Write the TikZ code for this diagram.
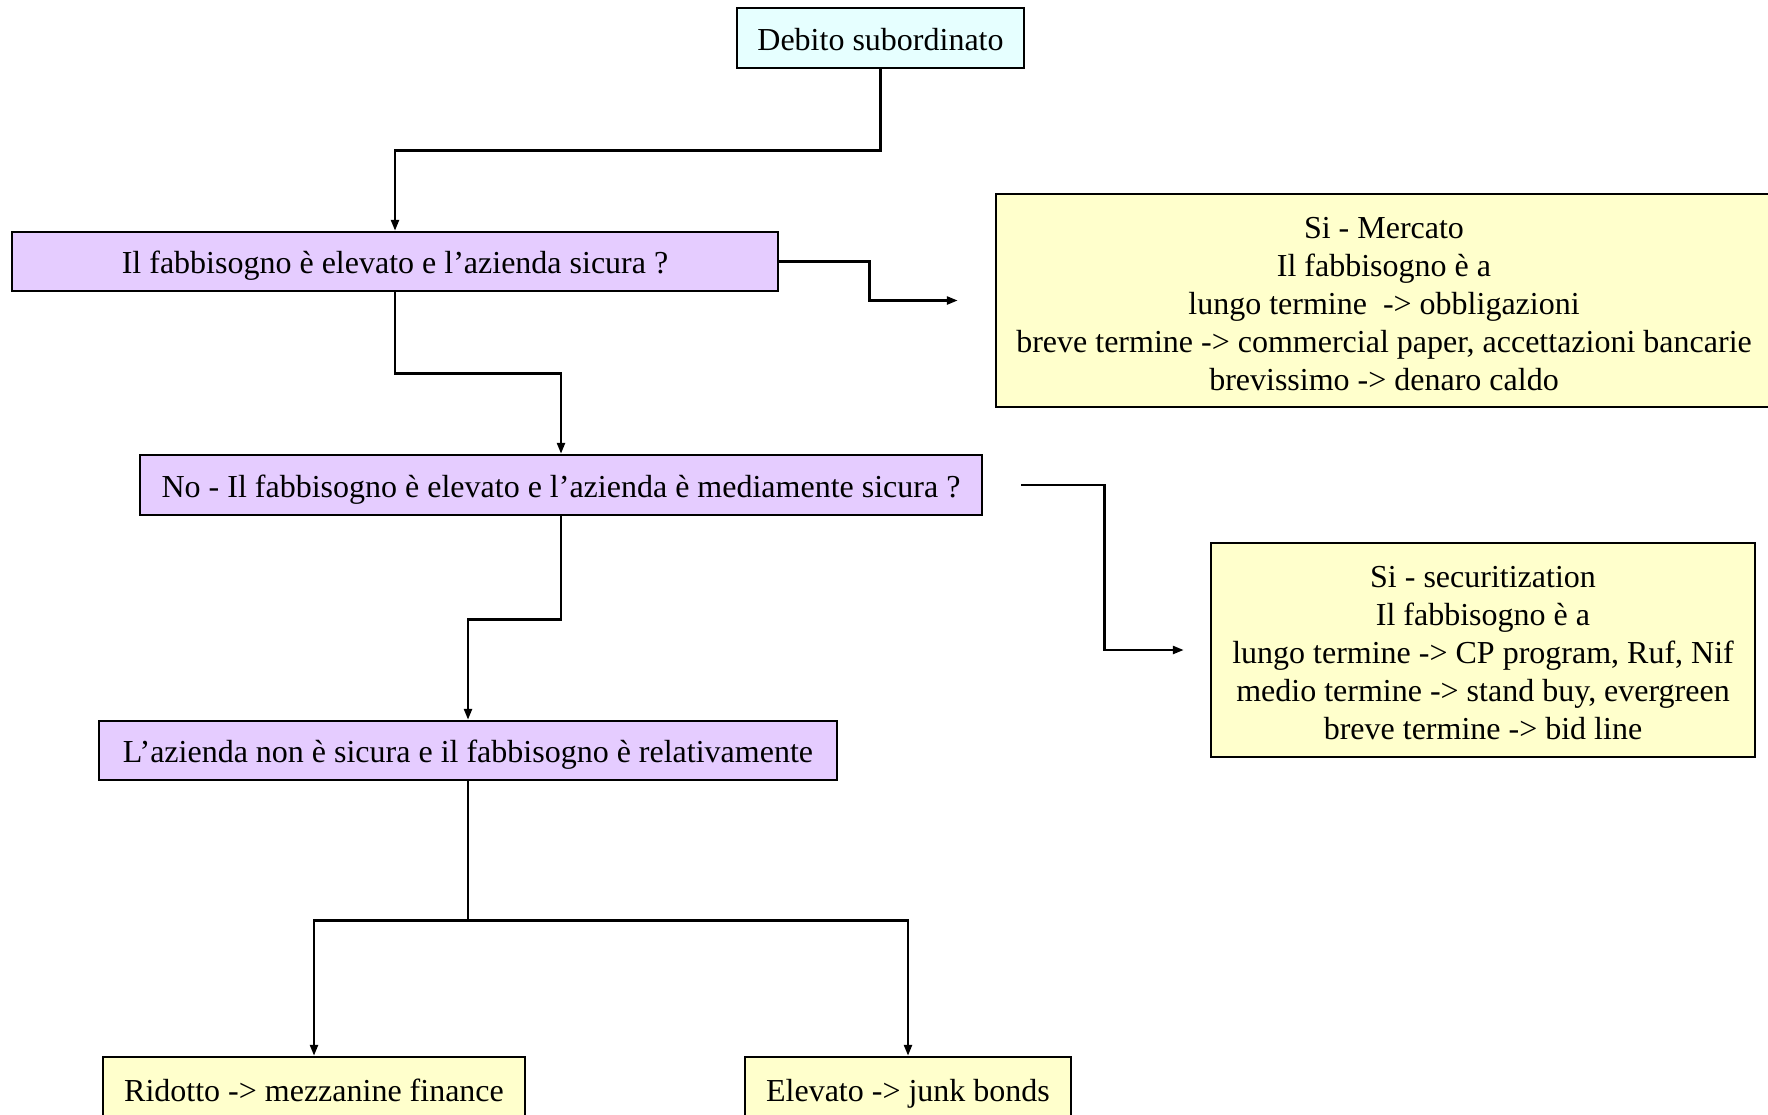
\documentclass[tikz,border=0pt]{standalone}
\usepackage{fontspec}
\setmainfont{Liberation Serif}
\usetikzlibrary{arrows.meta}
\definecolor{cyanfill}{HTML}{E6FFFF}
\definecolor{purplefill}{HTML}{E5CCFF}
\definecolor{yellowfill}{HTML}{FFFFCC}
\tikzset{
  box/.style={draw=black, line width=2.5pt, rectangle, inner sep=0pt, align=center,
    font=\fontsize{32}{38}\selectfont},
  oneline/.style={text height=26pt, text depth=2pt},
  qbox/.style={box, oneline, fill=purplefill},
  abox/.style={box, fill=yellowfill},
  tbox/.style={box, oneline, fill=cyanfill},
  arr/.style={line width=2.5pt, -{Triangle[length=11pt,width=8pt]}},
  ln/.style={line width=2.5pt}
}
\begin{document}
\begin{tikzpicture}[x=1pt,y=-1pt]
\useasboundingbox (0,0) rectangle (1768,1114);
\clip (0,0) rectangle (1768,1114);
\fill[white] (0,0) rectangle (1768,1114);

\node[tbox, minimum width=287pt, minimum height=60pt] (deb) at (880.5,38) {Debito subordinato};
\node[qbox, minimum width=766pt, minimum height=59pt] (b1) at (395,261.5) {Il fabbisogno è elevato e l’azienda sicura ?};
\node[qbox, minimum width=842pt, minimum height=60pt] (b2) at (561,485) {No - Il fabbisogno è elevato e l’azienda è mediamente sicura ?};
\node[qbox, minimum width=738pt, minimum height=59pt] (b3) at (468,750.5) {L’azienda non è sicura e il fabbisogno è relativamente};
\node[abox, minimum width=776pt, minimum height=213pt] (mer) at (1384,300.5) {\rule{0pt}{28pt}Si - Mercato\\Il fabbisogno è a\\lungo termine~ -> obbligazioni\\breve termine -> commercial paper, accettazioni bancarie\\brevissimo -> denaro caldo};
\node[abox, minimum width=544pt, minimum height=214pt] (sec) at (1483,650) {\rule{0pt}{28pt}Si - securitization\\Il fabbisogno è a\\lungo termine -> CP program, Ruf, Nif\\medio termine -> stand buy, evergreen\\breve termine -> bid line};
\node[abox, oneline, minimum width=422pt, minimum height=64pt] (rid) at (314,1089) {Ridotto -> mezzanine finance};
\node[abox, oneline, minimum width=326pt, minimum height=64pt] (ele) at (908,1089) {Elevato -> junk bonds};

\draw[arr] (deb.south) -- ++(0,81) -| (b1.north);
\draw[arr, shorten >=37pt] (b1.east) -- ++(90,0) |- (mer.west);
\draw[arr] (b1.south) -- ++(0,81) -| (b2.north);
\draw[arr, shorten <=38pt, shorten >=26pt] (b2.east) -- ++(121,0) |- (sec.west);
\draw[arr] (b2.south) -- ++(0,103) -| (b3.north);
\draw[ln] (b3.south) -- ++(0,139) coordinate (j);
\draw[arr] (j) -| (rid.north);
\draw[arr] (j) -| (ele.north);
\end{tikzpicture}
\end{document}
